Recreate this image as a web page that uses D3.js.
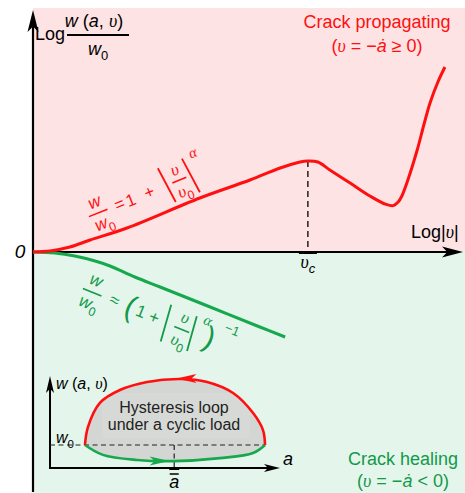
<!DOCTYPE html>
<html>
<head>
<meta charset="utf-8">
<script src="https://cdn.jsdelivr.net/npm/d3@7"></script>
<style>
  body { margin: 0; background: #fff; }
  svg text { font-family: "Liberation Sans", Arial, sans-serif; }
</style>
</head>
<body>
<svg id="chart" width="465" height="493"></svg>
<script>
// ---- data -------------------------------------------------------------
// Crack propagating branch: Log|v| against Log(w/w0)
const propLogV = [0, 0.41, 0.89, 1.38, 2.27, 4.03, 5.24, 5.97, 6.45, 6.64, 6.88, 7.17, 7.66, 8.14, 8.53, 8.70, 8.82, 8.91, 9.03, 9.28, 9.44, 9.59, 9.78, 9.95];
const propLogW = [0, 0.025, 0.125, 0.30, 0.60, 1.35, 1.80, 2.10, 2.25, 2.275, 2.25, 2.05, 1.725, 1.40, 1.19, 1.16, 1.25, 1.40, 1.725, 2.55, 3.175, 3.725, 4.25, 4.625];
// Crack healing branch
const healLogV = [0, 0.53, 1.01, 1.50, 1.86, 2.46, 3.07, 4.28, 5.48, 6.09];
const healLogW = [0, -0.025, -0.10, -0.225, -0.35, -0.625, -0.875, -1.375, -1.875, -2.125];
// Critical velocity v_c (peak of the propagating branch)
const criticalLogV = 6.64;

// Inset: hysteresis loop of w(a, v) under a cyclic load
const loopUpperA = [1.52, 1.65, 2.17, 3.04, 4.22, 5.65, 6.83, 7.96, 8.83, 9.26, 9.35];
const loopUpperW = [1.00, 1.78, 2.83, 3.39, 3.74, 3.87, 3.74, 3.26, 2.39, 1.65, 1.00];
const loopLowerA = [1.52, 2.30, 3.78, 5.35, 7.39, 8.83, 9.35];
const loopLowerW = [1.00, 0.57, 0.35, 0.30, 0.43, 0.65, 1.00];
const insetW0 = 1;
const meanA = 5.4;

// ---- setup ------------------------------------------------------------
const W = 465, H = 493;
const RED = "#ff1010", GREEN = "#16a84c", GREEN_TXT = "#13994a";
const SERIF = "'Liberation Serif','DejaVu Serif',serif";
const svg = d3.select("#chart");

const x = d3.scaleLinear().domain([0, 10]).range([33, 447]);
const y = d3.scaleLinear().domain([-6, 6]).range([492, 12]);

// shaded regions
svg.append("rect").attr("x", x(0)).attr("y", 8)
  .attr("width", W - x(0)).attr("height", y(0) - 8).attr("fill", "#fee3e4");
svg.append("rect").attr("x", x(0)).attr("y", y(0))
  .attr("width", W - x(0)).attr("height", H - y(0)).attr("fill", "#e4f5eb");

// arrow head pointing along +x with its tip at the origin
function arrowHead(g, tx, ty, angle, len, half, color) {
  g.append("path")
    .attr("d", `M0,0 L${-len},${-half} L${-len * 0.75},0 L${-len},${half} Z`)
    .attr("transform", `translate(${tx},${ty}) rotate(${angle})`)
    .attr("fill", color || "#000");
}

// text built from styled pieces
function rich(sel, parts, size) {
  let shift = 0;
  parts.forEach(p => {
    const ts = sel.append("tspan").text(p.t);
    if (p.f === "it") ts.attr("font-style", "italic");
    if (p.f === "gr") ts.attr("font-family", SERIF).attr("font-style", "italic");
    const target = p.sub ? size * 0.3 : 0;
    if (target !== shift) { ts.attr("dy", target - shift); shift = target; }
    if (p.sub) ts.attr("font-size", size * 0.72);
  });
  return sel;
}

// ---- main axes ----------------------------------------------------------
const axes = svg.append("g");
axes.append("line").attr("x1", x(0)).attr("x2", x(0)).attr("y1", H - 1).attr("y2", 16)
  .attr("stroke", "#000").attr("stroke-width", 2.2);
arrowHead(axes, x(0), 10, -90, 22, 5.5);
axes.append("line").attr("x1", x(0)).attr("x2", 450).attr("y1", y(0)).attr("y2", y(0))
  .attr("stroke", "#000").attr("stroke-width", 2.2);
arrowHead(axes, 463, y(0), 0, 21, 5.5);

// critical velocity marker
const peakW = propLogW[propLogV.indexOf(criticalLogV)];
svg.append("line").attr("x1", x(criticalLogV)).attr("x2", x(criticalLogV))
  .attr("y1", y(peakW)).attr("y2", y(0))
  .attr("stroke", "#000").attr("stroke-width", 1.3).attr("stroke-dasharray", "6,4");
svg.append("line").attr("x1", x(criticalLogV) - 9).attr("x2", x(criticalLogV) + 9)
  .attr("y1", y(0) + 0.5).attr("y2", y(0) + 0.5).attr("stroke", "#000").attr("stroke-width", 3);

// ---- curves -------------------------------------------------------------
const line = d3.line().x(d => x(d[0])).y(d => y(d[1])).curve(d3.curveCatmullRom.alpha(0.5));
svg.append("path").datum(d3.zip(healLogV, healLogW)).attr("d", line)
  .attr("fill", "none").attr("stroke", GREEN).attr("stroke-width", 3);
svg.append("path").datum(d3.zip(propLogV, propLogW)).attr("d", line)
  .attr("fill", "none").attr("stroke", RED).attr("stroke-width", 3);

// ---- axis labels ----------------------------------------------------------
svg.append("text").attr("x", 35).attr("y", 40).attr("font-size", 18).text("Log");
svg.append("line").attr("x1", 67).attr("x2", 129).attr("y1", 35).attr("y2", 35)
  .attr("stroke", "#000").attr("stroke-width", 1.8);
rich(svg.append("text").attr("x", 94).attr("y", 27).attr("font-size", 18).attr("text-anchor", "middle"),
  [{ t: "w", f: "it" }, { t: " (" }, { t: "a", f: "it" }, { t: ", " }, { t: "υ", f: "gr" }, { t: ")" }], 18);
rich(svg.append("text").attr("x", 98).attr("y", 55).attr("font-size", 18).attr("text-anchor", "middle"),
  [{ t: "w", f: "it" }, { t: "0", sub: true }], 18);

svg.append("text").attr("x", 20).attr("y", 258).attr("font-size", 19)
  .attr("font-style", "italic").attr("text-anchor", "middle").text("0");

rich(svg.append("text").attr("x", 411).attr("y", 238).attr("font-size", 18),
  [{ t: "Log|" }, { t: "υ", f: "gr" }, { t: "|" }], 18);

rich(svg.append("text").attr("x", x(criticalLogV)).attr("y", 268).attr("font-size", 18).attr("text-anchor", "middle"),
  [{ t: "υ", f: "gr" }, { t: "c", f: "it", sub: true }], 18);

// ---- region titles ----------------------------------------------------------
svg.append("text").attr("x", 377).attr("y", 28).attr("font-size", 18)
  .attr("text-anchor", "middle").attr("fill", RED).text("Crack propagating");
rich(svg.append("text").attr("x", 377).attr("y", 52).attr("font-size", 18)
  .attr("text-anchor", "middle").attr("fill", RED),
  [{ t: "(" }, { t: "υ", f: "gr" }, { t: " = −" }, { t: "ȧ", f: "it" }, { t: " ≥ 0)" }], 18);

svg.append("text").attr("x", 403).attr("y", 465).attr("font-size", 18)
  .attr("text-anchor", "middle").attr("fill", GREEN_TXT).text("Crack healing");
rich(svg.append("text").attr("x", 403).attr("y", 487).attr("font-size", 18)
  .attr("text-anchor", "middle").attr("fill", GREEN_TXT),
  [{ t: "(" }, { t: "υ", f: "gr" }, { t: " = −" }, { t: "ȧ", f: "it" }, { t: " < 0)" }], 18);

// ---- slanted formulas ----------------------------------------------------------
function formula(tx, ty, angle, items, color) {
  const g = svg.append("g").attr("transform", `translate(${tx},${ty}) rotate(${angle})`)
    .attr("fill", color);
  items.forEach(it => {
    if (it.bar) {
      g.append("line").attr("x1", it.bar[0]).attr("x2", it.bar[1]).attr("y1", it.v).attr("y2", it.v)
        .attr("stroke", color).attr("stroke-width", 1.6);
    } else if (it.vbar) {
      g.append("line").attr("x1", it.u - 2).attr("x2", it.u + 2).attr("y1", it.vbar[0]).attr("y2", it.vbar[1])
        .attr("stroke", color).attr("stroke-width", 1.8);
    } else {
      const s = it.size || 17;
      const t = g.append("text").attr("x", it.u).attr("y", it.v + s * (it.k || 0.3))
        .attr("font-size", s).attr("text-anchor", "middle");
      if (it.sy) t.attr("transform", `translate(0,${it.v}) scale(1,${it.sy}) translate(0,${-it.v})`);
      rich(t, it.parts, s);
    }
  });
}

formula(88, 217, -22, [
  { parts: [{ t: "w", f: "it" }], u: 11.5, v: -11 },
  { bar: [1, 21], v: 0 },
  { parts: [{ t: "w", f: "it" }, { t: "0", sub: true }], u: 13, v: 12 },
  { parts: [{ t: "=" }], u: 34, v: 0, k: 0.33 },
  { parts: [{ t: "1" }], u: 46, v: 0, k: 0.36 },
  { parts: [{ t: "+" }], u: 66, v: 0, k: 0.33 },
  { vbar: [-19, 19], u: 85 },
  { parts: [{ t: "υ", f: "gr" }], u: 98, v: -11 },
  { bar: [91, 106], v: 0 },
  { parts: [{ t: "υ", f: "gr" }, { t: "0", sub: true }], u: 100, v: 12 },
  { vbar: [-19, 19], u: 111 },
  { parts: [{ t: "α", f: "gr" }], u: 121, v: -20, size: 15 }
], RED);

formula(94, 293, 22, [
  { parts: [{ t: "w", f: "it" }], u: -2.5, v: -12 },
  { bar: [-12, 8], v: 0 },
  { parts: [{ t: "w", f: "it" }, { t: "0", sub: true }], u: -1, v: 12 },
  { parts: [{ t: "≈" }], u: 22, v: -1, k: 0.33 },
  { parts: [{ t: "(" }], u: 39, v: 0, size: 30, k: 0.3 },
  { parts: [{ t: "1" }], u: 50.5, v: -1, k: 0.36 },
  { parts: [{ t: "+" }], u: 65, v: 0, k: 0.33 },
  { vbar: [-18, 20], u: 78 },
  { parts: [{ t: "υ", f: "gr" }], u: 94, v: -11 },
  { bar: [87, 103], v: 1 },
  { parts: [{ t: "υ", f: "gr" }, { t: "0", sub: true }], u: 96, v: 13 },
  { vbar: [-17, 19], u: 106 },
  { parts: [{ t: "α", f: "gr" }], u: 116, v: -17, size: 15 },
  { parts: [{ t: ")" }], u: 124, v: -1, size: 30, k: 0.3 },
  { parts: [{ t: "−1" }], u: 142, v: -18, size: 13, k: 0.36 }
], GREEN_TXT);

// ---- inset: hysteresis loop ----------------------------------------------------------
const ia = d3.scaleLinear().domain([0, 10]).range([50, 280]);
const iw = d3.scaleLinear().domain([0, 4]).range([468, 376]);
const inset = svg.append("g");
const upper = d3.zip(loopUpperA, loopUpperW);
const lower = d3.zip(loopLowerA, loopLowerW);
const iline = d3.line().x(d => ia(d[0])).y(d => iw(d[1])).curve(d3.curveCatmullRom.alpha(0.5));

// loop area
inset.append("path")
  .attr("d", iline(upper) + "L" + iline(lower.slice().reverse()).slice(1) + "Z")
  .attr("fill", "#d4d6d3");

// faint box behind the caption
inset.append("rect").attr("x", 102).attr("y", 393).attr("width", 148).attr("height", 45)
  .attr("fill", "#fff").attr("opacity", 0.08);

// axes
inset.append("line").attr("x1", ia(0)).attr("x2", ia(0)).attr("y1", iw(0) + 1).attr("y2", iw(4) + 10)
  .attr("stroke", "#000").attr("stroke-width", 2);
arrowHead(inset, ia(0), iw(4), -90, 17, 4);
inset.append("line").attr("x1", ia(0) - 1).attr("x2", ia(10) - 10).attr("y1", iw(0)).attr("y2", iw(0))
  .attr("stroke", "#000").attr("stroke-width", 2);
arrowHead(inset, ia(10), iw(0), 0, 16, 4);

// reference lines
inset.append("line").attr("x1", ia(0)).attr("x2", ia(loopUpperA[loopUpperA.length - 1]))
  .attr("y1", iw(insetW0)).attr("y2", iw(insetW0))
  .attr("stroke", "#222").attr("stroke-width", 1.2).attr("stroke-dasharray", "5,3.5");
inset.append("line").attr("x1", ia(meanA)).attr("x2", ia(meanA))
  .attr("y1", iw(insetW0)).attr("y2", iw(0))
  .attr("stroke", "#222").attr("stroke-width", 1.2).attr("stroke-dasharray", "5,3.5");
inset.append("line").attr("x1", ia(meanA) - 5).attr("x2", ia(meanA) + 5)
  .attr("y1", iw(0) + 0.5).attr("y2", iw(0) + 0.5).attr("stroke", "#000").attr("stroke-width", 3);

// loop branches
inset.append("path").attr("d", iline(lower)).attr("fill", "none")
  .attr("stroke", GREEN).attr("stroke-width", 2.6);
inset.append("path").attr("d", iline(upper)).attr("fill", "none")
  .attr("stroke", RED).attr("stroke-width", 2.6);

// direction arrows on the loop
arrowHead(inset, ia(5.5), iw(3.87) - 0.5, 180, 20, 4.5, RED);
arrowHead(inset, ia(5.2), iw(0.30), 0, 20, 4.5, GREEN);

// inset labels
rich(inset.append("text").attr("x", 56).attr("y", 389).attr("font-size", 16),
  [{ t: "w", f: "it" }, { t: " (" }, { t: "a", f: "it" }, { t: ", " }, { t: "υ", f: "gr" }, { t: ")" }], 16);
rich(inset.append("text").attr("x", 56).attr("y", 443).attr("font-size", 16),
  [{ t: "w", f: "it" }, { t: "0", sub: true }], 16);
inset.append("text").attr("x", 283).attr("y", 465).attr("font-size", 18)
  .attr("font-style", "italic").text("a");
inset.append("text").attr("x", ia(meanA)).attr("y", 488).attr("font-size", 18)
  .attr("font-style", "italic").attr("text-anchor", "middle").text("a");
inset.append("line").attr("x1", ia(meanA) - 4.5).attr("x2", ia(meanA) + 4.5)
  .attr("y1", 474).attr("y2", 474).attr("stroke", "#000").attr("stroke-width", 1.5);

inset.append("text").attr("x", 174).attr("y", 413).attr("font-size", 16)
  .attr("text-anchor", "middle").attr("fill", "#222").text("Hysteresis loop");
inset.append("text").attr("x", 174).attr("y", 430).attr("font-size", 16)
  .attr("text-anchor", "middle").attr("fill", "#222").text("under a cyclic load");
</script>
</body>
</html>
